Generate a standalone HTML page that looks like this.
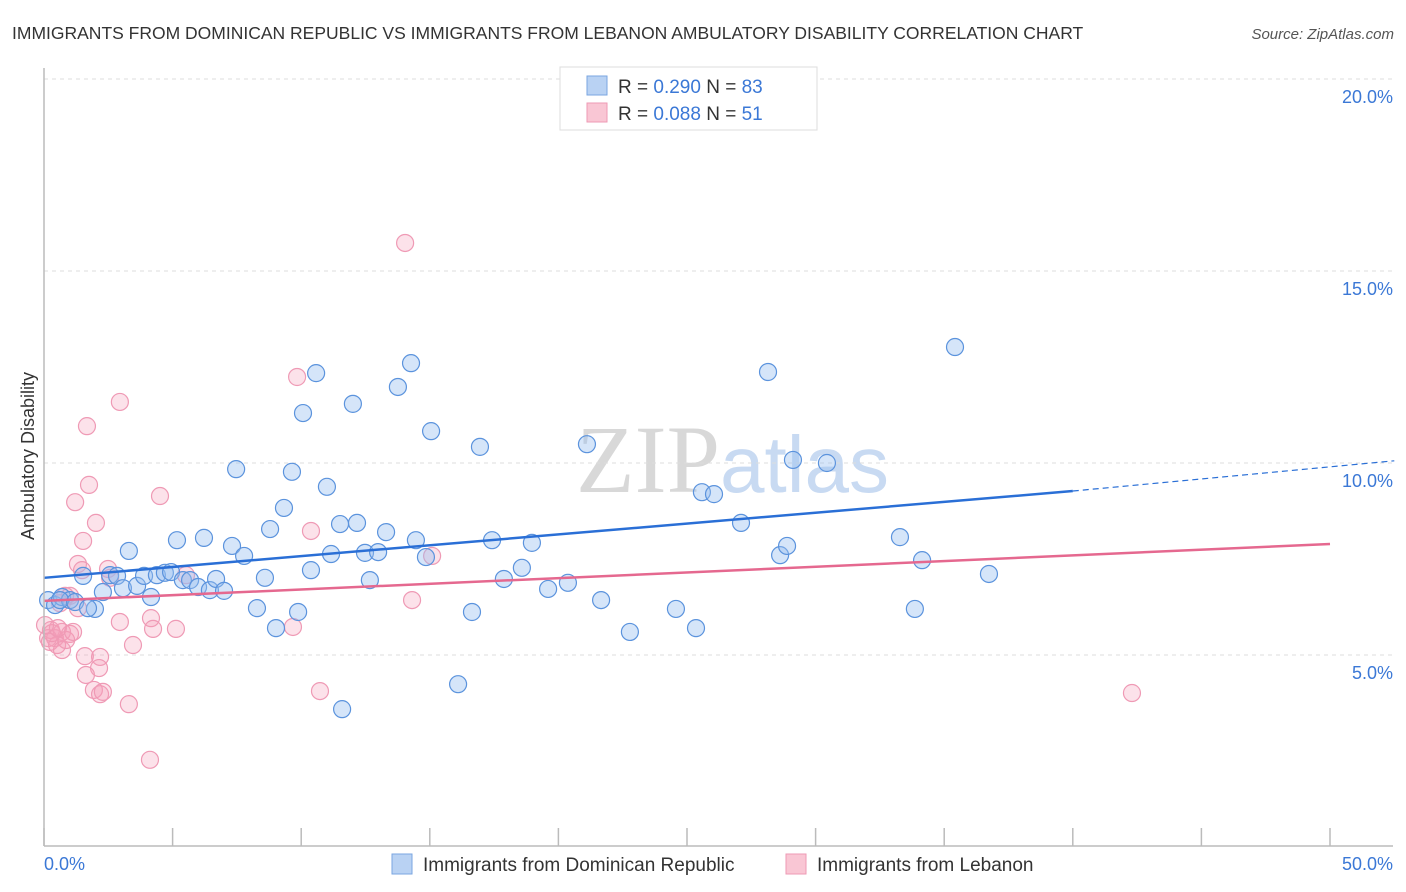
<!DOCTYPE html>
<html><head><meta charset="utf-8"><style>
body{margin:0;background:#fff;font-family:"Liberation Sans",sans-serif}
svg{display:block}
</style></head><body>
<svg id="c" width="1406" height="892" xmlns="http://www.w3.org/2000/svg">
<text x="12" y="39" font-size="17.5" fill="#333">IMMIGRANTS FROM DOMINICAN REPUBLIC VS IMMIGRANTS FROM LEBANON AMBULATORY DISABILITY CORRELATION CHART</text>
<text x="1394" y="39" font-size="15" fill="#555" font-style="italic" text-anchor="end">Source: ZipAtlas.com</text>
<text x="720" y="492" font-size="96" fill="#d8d8d8" text-anchor="end" font-family="Liberation Serif">ZIP</text>
<text x="720" y="492" font-size="80" fill="#c8daf2">atlas</text>
<text transform="translate(34,456) rotate(-90)" font-size="18" fill="#333" text-anchor="middle">Ambulatory Disability</text>
<g id="grid"></g><g id="pts"></g><g id="lines"></g>
<line x1="44" y1="68" x2="44" y2="846" stroke="#bbb" stroke-width="1.5"/>
<line x1="44" y1="846" x2="1393" y2="846" stroke="#bbb" stroke-width="1.5"/>
<text x="44" y="870" font-size="18" fill="#3b78d6">0.0%</text>
<text x="1393" y="870" font-size="18" fill="#3b78d6" text-anchor="end">50.0%</text>
<g>
<rect x="560" y="67" width="257" height="63" fill="#fff" stroke="#ddd"/>
<rect x="587" y="76" width="20" height="19" fill="#b9d2f3" stroke="#7aa6e0"/>
<rect x="587" y="103" width="20" height="19" fill="#f9c6d4" stroke="#ee9ab4"/>
<text x="618" y="93" font-size="19" fill="#333">R = <tspan fill="#3b78d6">0.290</tspan>   N = <tspan fill="#3b78d6">83</tspan></text>
<text x="618" y="120" font-size="19" fill="#333">R = <tspan fill="#3b78d6">0.088</tspan>   N =  <tspan fill="#3b78d6">51</tspan></text>
</g>
<g>
<rect x="392" y="854" width="20" height="20" fill="#b9d2f3" stroke="#7aa6e0"/>
<text x="423" y="871" font-size="19" fill="#333">Immigrants from Dominican Republic</text>
<rect x="786" y="854" width="20" height="20" fill="#f9c6d4" stroke="#ee9ab4"/>
<text x="817" y="871" font-size="19" fill="#333">Immigrants from Lebanon</text>
</g>
</svg>
<script>
const yTicks=[5,10,15,20];
const xTicks=[0,5,10,15,20,25,30,35,40,45,50];
const blueX=[0.16,0.43,0.70,1.01,1.52,1.98,2.29,2.57,2.84,3.07,3.30,3.62,3.89,4.16,4.39,4.70,4.94,5.17,5.40,5.68,5.99,6.22,6.45,6.69,7.00,7.31,7.47,7.78,8.28,8.59,8.79,9.02,9.33,9.64,9.88,10.07,10.38,10.58,11.00,11.16,11.51,11.59,12.01,12.17,12.48,12.67,12.99,13.30,13.76,14.27,14.46,14.85,15.05,16.10,16.64,16.95,17.42,17.88,18.58,18.97,19.60,20.37,21.11,21.66,22.78,24.57,25.35,25.58,26.05,27.10,28.15,28.62,28.89,29.12,30.44,33.28,33.86,34.14,35.42,36.74,0.62,1.21,1.71];
const blueY=[6.43,6.30,6.51,6.43,7.06,6.20,6.64,7.08,7.06,6.74,7.71,6.80,7.06,6.51,7.08,7.14,7.16,7.99,6.95,6.95,6.77,8.05,6.69,6.98,6.67,7.84,9.84,7.58,6.22,7.01,8.28,5.70,8.83,9.77,6.12,11.30,7.21,12.34,9.38,7.63,8.41,3.59,11.54,8.44,7.66,6.95,7.68,8.20,11.98,12.60,7.99,7.55,10.83,4.24,6.12,10.42,7.99,6.98,7.27,7.92,6.72,6.88,10.49,6.43,5.60,6.20,5.70,9.24,9.19,8.44,12.37,7.60,7.84,10.08,10.00,8.07,6.20,7.47,13.02,7.11,6.43,6.38,6.22];
const pinkX=[14.04,9.84,2.95,1.67,1.75,1.21,4.51,2.02,1.52,10.38,1.32,1.48,2.49,5.52,2.57,1.01,1.32,0.62,0.82,0.27,0.43,0.70,1.01,2.95,4.16,4.24,5.13,9.68,14.31,15.09,3.46,1.59,2.18,2.14,1.63,1.94,2.18,2.29,3.30,4.12,10.73,42.30,0.16,0.23,0.51,0.70,0.86,0.31,0.54,1.13,0.04];
const pinkY=[15.73,12.24,11.59,10.96,9.43,8.98,9.14,8.44,7.97,8.23,7.37,7.21,7.24,7.08,7.01,6.54,6.22,6.35,6.54,5.65,5.44,5.60,5.55,5.86,5.96,5.68,5.68,5.73,6.43,7.58,5.26,4.97,4.95,4.66,4.48,4.09,3.98,4.04,3.72,2.27,4.06,4.01,5.44,5.34,5.26,5.13,5.39,5.57,5.70,5.60,5.78];
const blueTrend=[7.01,9.27,9.90]; // y at x=0,40,50
const pinkTrend=[6.41,7.89]; // y at x=0,50
const sx=v=>44+v*25.72, sy=v=>847-v*38.4;
const NS='http://www.w3.org/2000/svg';
function mk(tag,attrs,parent){const e=document.createElementNS(NS,tag);for(const k in attrs)e.setAttribute(k,attrs[k]);parent.appendChild(e);return e;}
const grid=document.getElementById('grid');
yTicks.forEach(t=>{
  const l=mk('line',{x1:44,x2:1393,y1:sy(t),y2:sy(t),stroke:'#ddd','stroke-dasharray':'4,4'},grid);
  
  
  const tx=mk('text',{x:1393,y:sy(t)+24,'font-size':18,fill:'#3b78d6','text-anchor':'end'},grid);
  tx.textContent=t.toFixed(1)+'%';
  
  
});
xTicks.forEach(t=>{
  const l=mk('line',{x1:sx(t),x2:sx(t),y1:828,y2:846,stroke:'#bbb','stroke-width':1.5},grid);
  
  
});
const pts=document.getElementById('pts');
pinkX.forEach((x,i)=>{
  const c=mk('circle',{cx:sx(x),cy:sy(pinkY[i]),r:8.5,fill:'rgba(244,160,186,0.3)',stroke:'#ef9ab5','stroke-width':1.2},pts);
  
  
});
blueX.forEach((x,i)=>{
  const c=mk('circle',{cx:sx(x),cy:sy(blueY[i]),r:8.5,fill:'rgba(150,190,240,0.4)',stroke:'#5b93dd','stroke-width':1.2},pts);
  
  
});
const lines=document.getElementById('lines');
const b1=mk('line',{x1:sx(0),y1:sy(blueTrend[0]),x2:sx(40),y2:sy(blueTrend[1]),stroke:'#2a6fd6','stroke-width':2.5},lines);


const b2=mk('line',{x1:sx(40),y1:sy(blueTrend[1]),x2:sx(52.5),y2:sy(blueTrend[1]+(blueTrend[2]-blueTrend[1])*1.25),stroke:'#2a6fd6','stroke-width':1.2,'stroke-dasharray':'6,4'},lines);


const p1=mk('line',{x1:sx(0),y1:sy(pinkTrend[0]),x2:sx(50),y2:sy(pinkTrend[1]),stroke:'#e5688f','stroke-width':2.5},lines);


</script>
</body></html>
